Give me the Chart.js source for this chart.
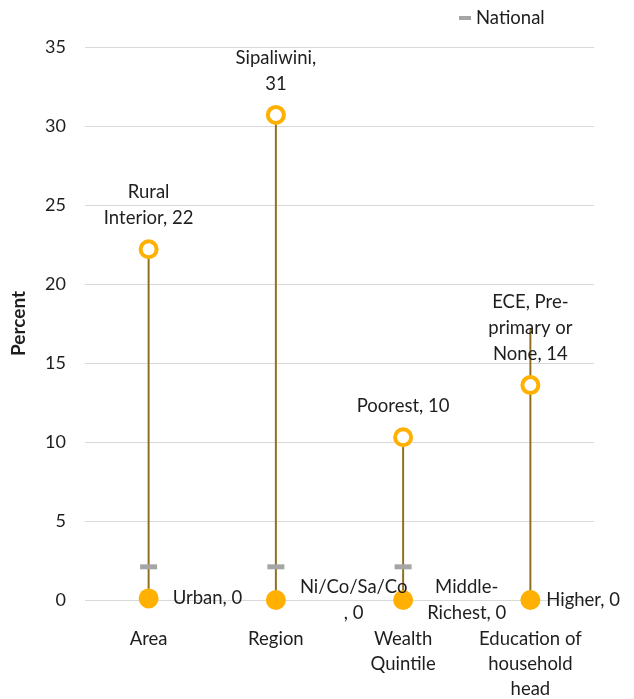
<!DOCTYPE html>
<html>
<head>
<meta charset="utf-8">
<script src="https://cdn.jsdelivr.net/npm/chart.js@4.4.1/dist/chart.umd.min.js"></script>
<style>
  html, body { margin: 0; padding: 0; background: #fff; }
  #wrap { width: 634px; height: 699px; }
</style>
</head>
<body>
<div id="wrap"><canvas id="rangeChart" width="634" height="699"></canvas></div>
<script>
// Categories along the x axis (multi-line labels)
const categories = [['Area'], ['Region'], ['Wealth', 'Quintile'], ['Education of', 'household', 'head']];

// Highest group, lowest group and national value per category (percent)
const highValues = [22.2, 30.7, 10.3, 13.6];
const lowValues = [0.1, 0, 0, 0];
const nationalValues = [2.1, 2.1, 2.1, 17.2];

// Label text, {v} is replaced by the rounded value
const highLabels = ['Rural\nInterior, {v}', 'Sipaliwini,\n{v}', 'Poorest, {v}', 'ECE, Pre-\nprimary or\nNone, {v}'];
const lowLabels = ['Urban, {v}', 'Ni/Co/Sa/Co\n, {v}', 'Middle-\nRichest, {v}', 'Higher, {v}'];

const yTicks = [0, 5, 10, 15, 20, 25, 30, 35];

const FONT = 'Lato, "Open Sans", sans-serif';
const TEXT = '#1e1e1e';
const GOLD = '#FFB000';

// high-low line runs across every series of a category
const ranges = categories.map((_, i) => {
  const vals = [highValues[i], lowValues[i], nationalValues[i]];
  return [Math.min(...vals), Math.max(...vals)];
});

const labelPlugin = {
  id: 'pointLabels',
  afterDatasetsDraw(chart) {
    const ctx = chart.ctx;
    const lineH = 26;
    ctx.save();
    ctx.font = '18.5px ' + FONT;
    ctx.fillStyle = TEXT;
    ctx.textBaseline = 'middle';
    ctx.textAlign = 'center';

    // labels above the highest point
    chart.getDatasetMeta(2).data.forEach((pt, i) => {
      const lines = highLabels[i].replace('{v}', Math.round(highValues[i])).split('\n');
      const bottom = pt.y - 31;
      lines.forEach((ln, k) => {
        ctx.fillText(ln, pt.x, bottom - (lines.length - 1 - k) * lineH);
      });
    });

    // labels to the right of the lowest point
    chart.getDatasetMeta(3).data.forEach((pt, i) => {
      const lines = lowLabels[i].replace('{v}', Math.round(lowValues[i])).split('\n');
      const w = Math.max(...lines.map(ln => ctx.measureText(ln).width));
      const left = Math.min(pt.x + 24, 620 - w);
      const top = pt.y - (lines.length - 1) * lineH / 2;
      lines.forEach((ln, k) => {
        ctx.fillText(ln, left + w / 2, top + k * lineH);
      });
    });

    // legend entry for the national marker
    ctx.fillStyle = '#A5A5A5';
    ctx.fillRect(459, 16, 12, 4);
    ctx.fillStyle = TEXT;
    ctx.textAlign = 'left';
    ctx.fillText('National', 476, 18);
    ctx.restore();
  }
};

new Chart(document.getElementById('rangeChart'), {
  data: {
    labels: categories,
    datasets: [
      {
        type: 'bar',
        label: 'Range',
        data: ranges,
        backgroundColor: '#8F6E1E',
        barThickness: 1.3,
        order: 4
      },
      {
        type: 'line',
        label: 'National',
        data: nationalValues,
        showLine: false,
        clip: false,
        pointStyle: 'line',
        // education marker is tucked under its label
        pointRadius: [8.5, 8.5, 8.5, 0],
        pointBorderWidth: 5,
        borderColor: '#A5A5A5',
        backgroundColor: '#A5A5A5',
        order: 3
      },
      {
        type: 'line',
        label: 'Highest',
        data: highValues,
        showLine: false,
        clip: false,
        pointStyle: 'circle',
        pointRadius: 8,
        pointBorderWidth: 4,
        borderColor: GOLD,
        pointBackgroundColor: '#ffffff',
        order: 1
      },
      {
        type: 'line',
        label: 'Lowest',
        data: lowValues,
        showLine: false,
        clip: false,
        pointStyle: 'circle',
        pointRadius: 10,
        pointBorderWidth: 0,
        borderColor: GOLD,
        pointBackgroundColor: GOLD,
        order: 2
      }
    ]
  },
  options: {
    responsive: false,
    animation: false,
    layout: {
      padding: { top: 47, right: 40, left: 0, bottom: 0 }
    },
    plugins: {
      legend: { display: false },
      tooltip: { enabled: false }
    },
    scales: {
      x: {
        offset: true,
        grid: { display: false, drawTicks: false },
        border: { display: false },
        ticks: {
          color: TEXT,
          font: { family: FONT, size: 18.5, lineHeight: 25 / 18.5 },
          padding: 27,
          maxRotation: 0,
          autoSkip: false
        },
        afterFit(scale) { scale.height = 99; }
      },
      y: {
        min: 0,
        max: 35,
        afterBuildTicks(scale) {
          scale.ticks = yTicks.map(v => ({ value: v }));
        },
        grid: { color: '#d9d9d9', lineWidth: 1, drawTicks: false },
        border: { display: false },
        ticks: {
          color: TEXT,
          font: { family: FONT, size: 18 },
          padding: 19
        },
        title: {
          display: true,
          text: 'Percent',
          color: TEXT,
          font: { family: FONT, size: 19, weight: 'bold' },
          padding: { top: 7, bottom: 0 }
        },
        afterFit(scale) { scale.width = 85; }
      }
    }
  },
  plugins: [labelPlugin]
});
</script>
</body>
</html>
